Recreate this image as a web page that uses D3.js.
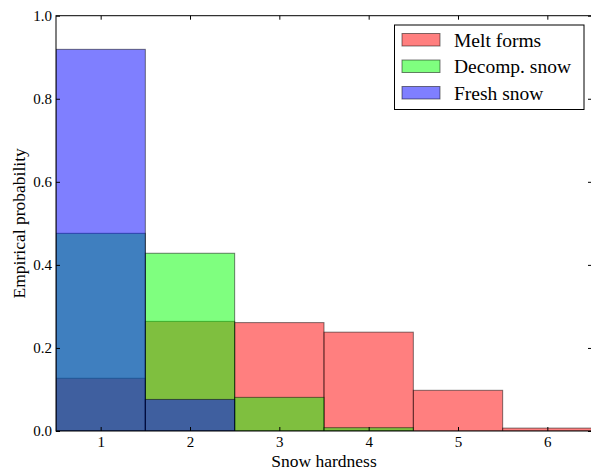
<!DOCTYPE html>
<html>
<head>
<meta charset="utf-8">
<script src="https://cdn.jsdelivr.net/npm/d3@7"></script>
<style>
  html, body { margin: 0; padding: 0; background: #fff; }
  svg { display: block; }
  text { font-family: "Liberation Serif", "DejaVu Serif", serif; fill: #000; }
</style>
</head>
<body>
<div id="chart"></div>
<script>
// ---- data ----
const hardness = [1, 2, 3, 4, 5, 6];
const binEdges = [0.5, 1.5, 2.5, 3.5, 4.5, 5.5, 6.5];
const meltForms = [0.127, 0.264, 0.261, 0.238, 0.098, 0.007];
const decompSnow = [0.476, 0.428, 0.081, 0.008, 0, 0];
const freshSnow = [0.919, 0.076, 0, 0, 0, 0];
const seriesNames = ["Melt forms", "Decomp. snow", "Fresh snow"];
const seriesColors = ["#ff0000", "#00ff00", "#0000ff"];
const yTicks = [0, 0.2, 0.4, 0.6, 0.8, 1.0];

(function () {
const W = 591, H = 471;
const mLeft = 56, mRight = 592, mTop = 15.7, mBottom = 431;

const svg = d3.select("#chart").append("svg").attr("width", W).attr("height", H);

const x = d3.scaleLinear().domain([0.5, 6.5]).range([mLeft, mRight]);
const y = d3.scaleLinear().domain([0, 1]).range([mBottom, mTop]);

svg.append("defs").append("clipPath").attr("id", "clip")
  .append("rect").attr("x", mLeft).attr("y", mTop).attr("width", mRight - mLeft).attr("height", mBottom - mTop);

const plot = svg.append("g").attr("clip-path", "url(#clip)");
const allSeries = [meltForms, decompSnow, freshSnow];
allSeries.forEach((vals, si) => {
  plot.append("g").selectAll("rect").data(vals).join("rect")
    .attr("x", (d, i) => x(binEdges[i]))
    .attr("width", (d, i) => x(binEdges[i + 1]) - x(binEdges[i]))
    .attr("y", d => y(d))
    .attr("height", d => y(0) - y(d))
    .attr("fill", seriesColors[si])
    .attr("fill-opacity", 0.5)
    .attr("stroke", "#000")
    .attr("stroke-opacity", 0.5)
    .attr("stroke-width", 1);
});

// axes
const fmt = d3.format(".1f");
const gB = svg.append("g").attr("transform", `translate(0,${mBottom})`)
  .call(d3.axisBottom(x).tickValues(hardness).tickFormat(d3.format("d")).tickSize(-4).tickSizeOuter(0).tickPadding(5.5));
const gT = svg.append("g").attr("transform", `translate(0,${mTop})`)
  .call(d3.axisTop(x).tickValues(hardness).tickFormat("").tickSize(-4).tickSizeOuter(0));
const gL = svg.append("g").attr("transform", `translate(${mLeft},0)`)
  .call(d3.axisLeft(y).tickValues(yTicks).tickFormat(fmt).tickSize(-4).tickSizeOuter(0).tickPadding(4));
const gR = svg.append("g").attr("transform", `translate(${mRight},0)`)
  .call(d3.axisRight(y).tickValues(yTicks).tickFormat("").tickSize(-4).tickSizeOuter(0));
[gB, gT, gL, gR].forEach(g => {
  g.select(".domain").remove();
  g.selectAll(".tick line").attr("stroke", "#000").attr("stroke-width", 1);
  g.selectAll("text").style("font-family", "'Liberation Serif', serif").attr("font-size", 15).attr("fill", "#222");
});

// frame
svg.append("rect").attr("x", mLeft).attr("y", mTop).attr("width", mRight - mLeft).attr("height", mBottom - mTop)
  .attr("fill", "none").attr("stroke", "#000").attr("stroke-width", 1);

// axis labels
svg.append("text").attr("x", (mLeft + mRight) / 2).attr("y", 467)
  .attr("text-anchor", "middle").attr("font-size", 17.5).text("Snow hardness");
svg.append("text").attr("transform", `translate(25,${(mTop + mBottom) / 2}) rotate(-90)`)
  .attr("text-anchor", "middle").attr("font-size", 17.5).text("Empirical probability");

// legend
const lg = svg.append("g");
lg.append("rect").attr("x", 394.5).attr("y", 25).attr("width", 189.5).attr("height", 84.5)
  .attr("fill", "#fff").attr("stroke", "#000").attr("stroke-width", 1);
seriesNames.forEach((name, i) => {
  lg.append("rect").attr("x", 402).attr("y", 33.5 + i * 26.5).attr("width", 38).attr("height", 12.5)
    .attr("fill", seriesColors[i]).attr("fill-opacity", 0.5)
    .attr("stroke", "#000").attr("stroke-opacity", 0.5);
  lg.append("text").attr("x", 454).attr("y", 46.7 + i * 26.6).attr("font-size", 19.5).text(name);
});
})();
</script>
</body>
</html>
